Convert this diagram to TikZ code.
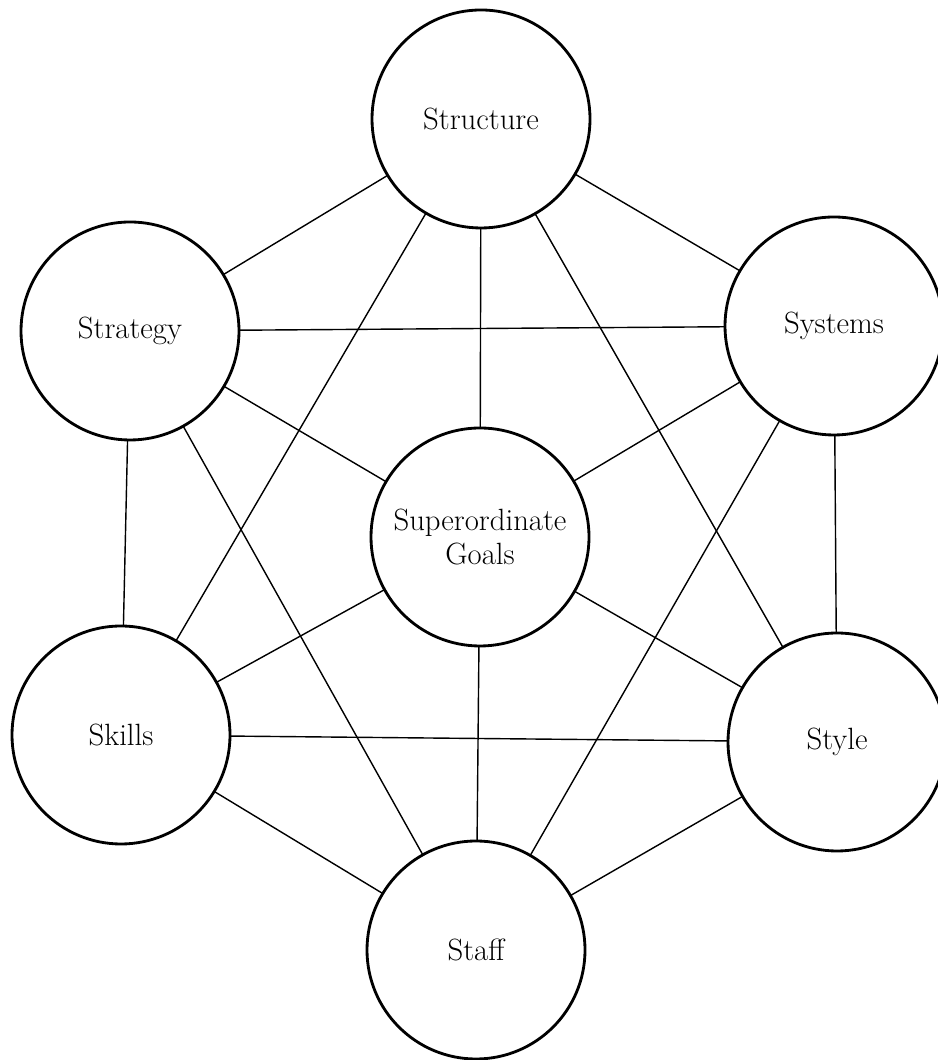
\documentclass[tikz,border=0pt]{standalone}
\usetikzlibrary{positioning}
\begin{document}
\begin{tikzpicture}[
  elem/.style={circle, draw, line width=1.6pt, minimum size=4.36cm, inner sep=0pt, outer sep=0pt, align=center, font=\fontsize{17.5}{18.8}\selectfont},
  lien/.style={line width=0.8pt}]
  \useasboundingbox (0,0) rectangle (18.74,21.2);
  \node (structure) [elem] at (9.62,18.82) {Structure};
  \node (strategy) [elem] at (2.60,14.58) {Strategy};
  \node (systems) [elem] at (16.68,14.68) {Systems};
  \node (goals) [elem] at (9.60,10.46) {Superordinate\\Goals};
  \node (skills) [elem] at (2.42,6.50) {Skills};
  \node (style) [elem] at (16.74,6.36) {Style};
  \node (staff) [elem] at (9.52,2.20) {Staff};
  \draw[lien] (structure) -- (strategy);
  \draw[lien] (structure) -- (systems);
  \draw[lien] (structure) -- (goals);
  \draw[lien] (structure) -- (skills);
  \draw[lien] (structure) -- (style);
  \draw[lien] (strategy) -- (systems);
  \draw[lien] (strategy) -- (goals);
  \draw[lien] (strategy) -- (skills);
  \draw[lien] (strategy) -- (staff);
  \draw[lien] (systems) -- (goals);
  \draw[lien] (systems) -- (style);
  \draw[lien] (systems) -- (staff);
  \draw[lien] (goals) -- (skills);
  \draw[lien] (goals) -- (style);
  \draw[lien] (goals) -- (staff);
  \draw[lien] (skills) -- (style);
  \draw[lien] (skills) -- (staff);
  \draw[lien] (style) -- (staff);
\end{tikzpicture}
\end{document}
